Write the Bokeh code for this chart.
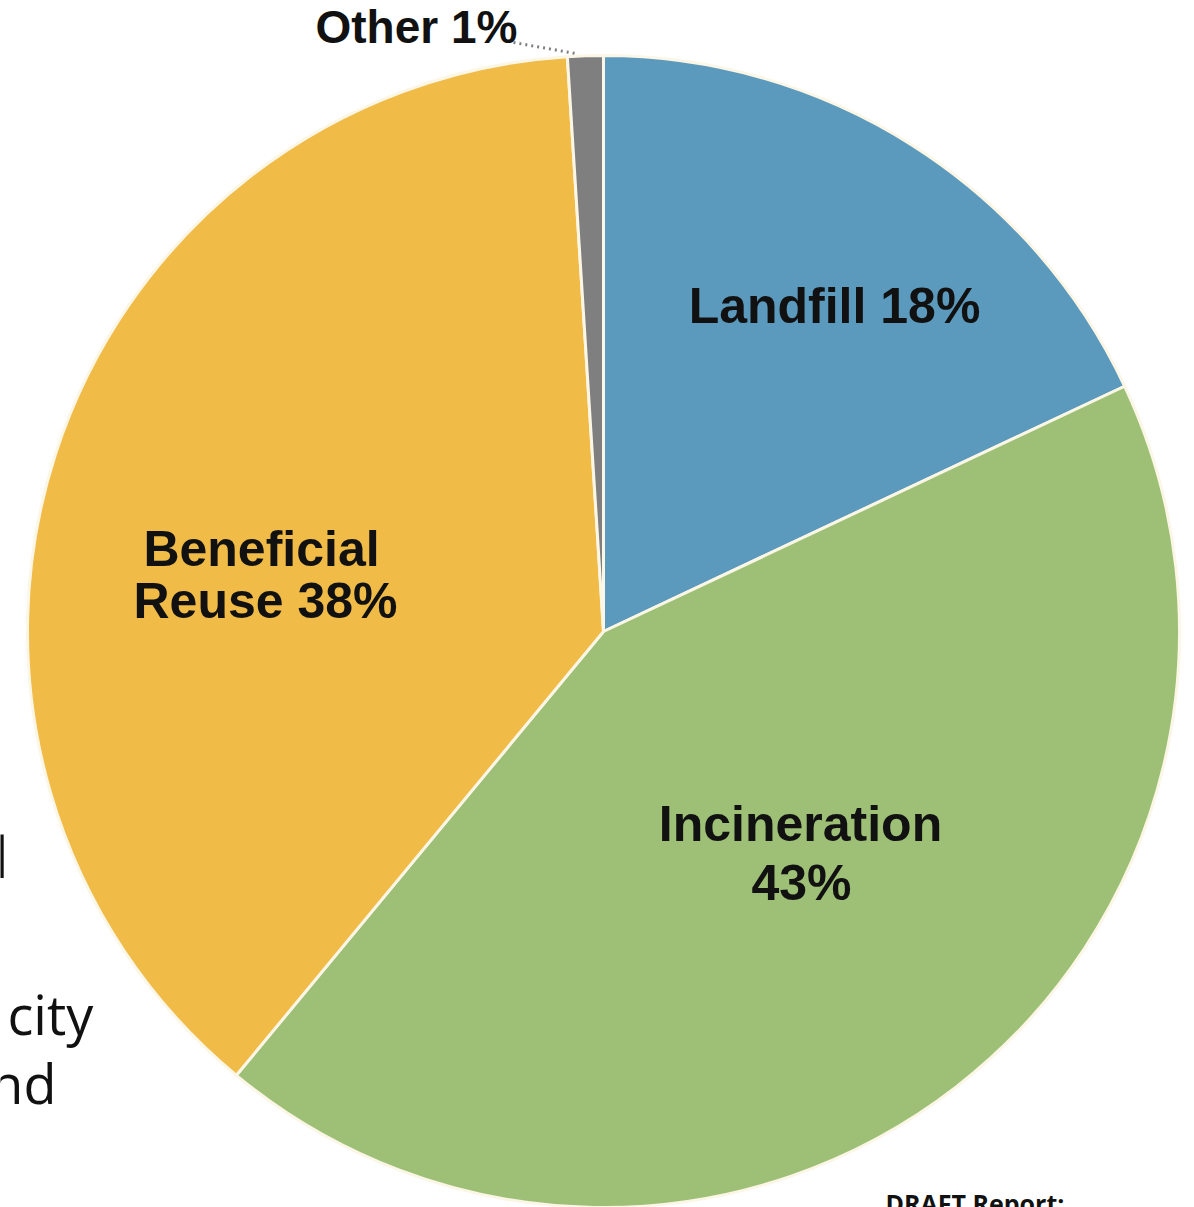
import math
from bokeh.plotting import figure
from bokeh.models import Range1d, ColumnDataSource
from bokeh.core.properties import value
from bokeh.embed import file_html
from bokeh.resources import INLINE

# ---- data (clockwise from 12 o'clock) ----
categories = ["Landfill", "Incineration", "Beneficial Reuse", "Other"]
percents = [18, 43, 38, 1]
colors = ["#5b9abd", "#9dc076", "#f0bb46", "#7f7f7f"]
label_lines = [["Landfill 18%"], ["Incineration", "43%"], ["Beneficial", "Reuse 38%"], ["Other 1%"]]

# ---- geometry (screen-pixel based, y flipped so data_y = H - screen_y) ----
W, H = 1194, 1207
cx, cy, r = 603, H - 631, 576

total = sum(percents)
starts, ends = [], []
acc = 0.0
for v in percents:
    starts.append(math.pi / 2 - 2 * math.pi * acc / total)
    acc += v
    ends.append(math.pi / 2 - 2 * math.pi * acc / total)

src = ColumnDataSource(dict(cat=categories, val=percents, color=colors,
                            start=starts, end=ends))

p = figure(width=W, height=H, output_backend="svg", toolbar_location=None,
           x_range=Range1d(0, W), y_range=Range1d(0, H),
           min_border=0, outline_line_color=None, background_fill_color="white",
           border_fill_color="white")
p.axis.visible = False
p.grid.visible = False

p.wedge(x=cx, y=cy, radius=r, start_angle="start", end_angle="end",
        direction="clock", fill_color="color", line_color="#fbf6e6",
        line_width=3, source=src)


def put(x, baseline_sy, txt, size, font, style="bold", align="center"):
    # empirical correction: svg text rendered ~0.4em below requested baseline
    y = H - baseline_sy + 0.4 * size
    p.text(x=[x], y=[y], text=[txt], text_font=font, text_font_style=style,
           text_font_size=f"{size}px", text_align=align, text_baseline="alphabetic",
           text_color="#111111")


# ---- slice labels ----
lab_font = value("Liberation Sans")
label_pos = [[(834, 325)], [(800, 843), (801, 902)], [(261, 568), (265, 620)]]
for lines, poss in zip(label_lines[:3], label_pos):
    for t, (lx, ly) in zip(lines, poss):
        put(lx, ly, t, 50, lab_font)

# Other label with dotted leader
put(315, 45, label_lines[3][0], 46, lab_font, align="left")
p.line(x=[513, 575], y=[H - 42, H - 53], line_color="#808080", line_width=3,
       line_dash="2 4")

# ---- stray slide text fragments ----
slide_font = value("Open Sans")
put(8, 878, "d", 56, slide_font, style="normal", align="right")
put(7, 1035, "city", 54, slide_font, style="normal", align="left")
put(56, 1104, "nd", 54, slide_font, style="normal", align="right")
put(885, 1212, "DRAFT Report:", 25, slide_font, style="bold", align="left")

open("out.html", "w").write(file_html(p, INLINE))
